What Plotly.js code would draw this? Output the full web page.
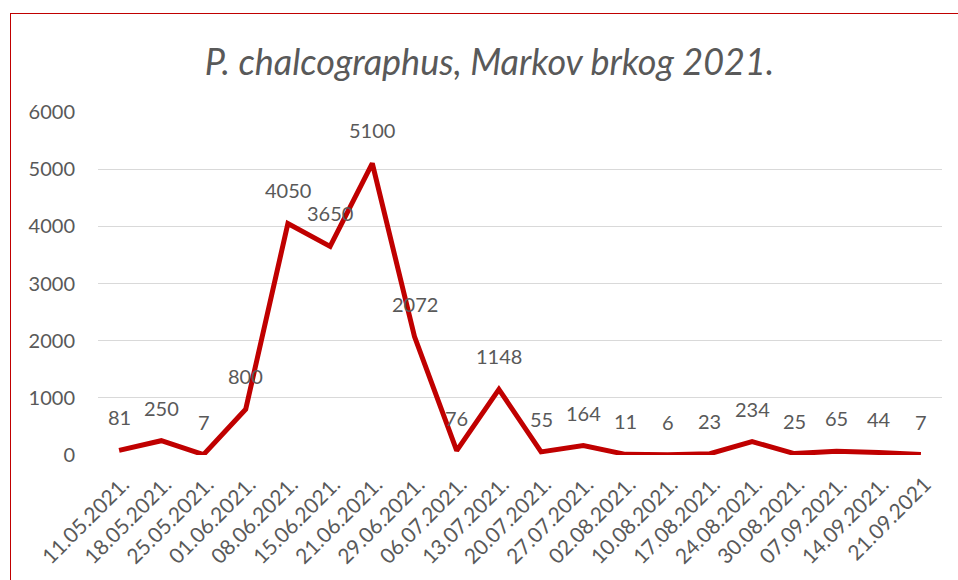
<!DOCTYPE html>
<html>
<head>
<meta charset="utf-8">
<script src="https://cdn.plot.ly/plotly-3.0.1.min.js"></script>
<style>
html,body{margin:0;padding:0;background:#fff;}
#chart{position:absolute;left:0;top:0;width:958px;height:580px;}
#frame{position:absolute;left:10px;top:13px;width:960px;height:600px;border-left:1.5px solid #C00000;border-top:1.5px solid #C00000;pointer-events:none;}
</style>
</head>
<body>
<div id="chart"></div>
<div id="frame"></div>
<script>
const dates = ["11.05.2021.","18.05.2021.","25.05.2021.","01.06.2021.","08.06.2021.","15.06.2021.","21.06.2021.","29.06.2021.","06.07.2021.","13.07.2021.","20.07.2021.","27.07.2021.","02.08.2021.","10.08.2021.","17.08.2021.","24.08.2021.","30.08.2021.","07.09.2021.","14.09.2021.","21.09.2021"];
const counts = [81,250,7,800,4050,3650,5100,2072,76,1148,55,164,11,6,23,234,25,65,44,7];
const yTicks = [0,1000,2000,3000,4000,5000,6000];

const fontFam = "Lato, 'Open Sans', sans-serif";
const grey = "#595959";

const trace = {
  x: dates, y: counts, type: "scatter", mode: "lines",
  line: {color: "#C00000", width: 5},
  hoverinfo: "skip"
};

const annotations = dates.map((d, i) => ({
  x: d, y: counts[i], xref: "x", yref: "y",
  text: String(counts[i]), showarrow: false,
  yanchor: "middle", xanchor: "center", yshift: 33,
  font: {family: fontFam, size: 20, color: grey}
}));

const layout = {
  width: 958, height: 580,
  margin: {l: 98, r: 16, t: 112, b: 125},
  paper_bgcolor: "#fff", plot_bgcolor: "#fff",
  showlegend: false,
  title: {
    text: "<i>P. chalcographus, Markov brkog 2021.</i>",
    font: {family: fontFam, size: 36, color: grey},
    xref: "container", yref: "container", x: 0.511, y: 0.893,
    xanchor: "center", yanchor: "middle"
  },
  xaxis: {
    type: "category", range: [-0.5, 19.5],
    tickangle: -45, showgrid: false, zeroline: false,
    showline: false, ticks: "", ticklabelstandoff: 12, ticklabelshift: 4,
    tickfont: {family: fontFam, size: 21, color: grey}
  },
  yaxis: {
    range: [0, 6000], tickvals: yTicks, ticktext: yTicks.map(String),
    showgrid: true, gridcolor: "#D9D9D9", gridwidth: 1.3,
    zeroline: false, showline: false, ticks: "", ticklabelstandoff: 22,
    tickfont: {family: fontFam, size: 20, color: grey}
  },
  annotations: annotations
};

Plotly.newPlot("chart", [trace], layout, {staticPlot: true, displayModeBar: false});
</script>
</body>
</html>
